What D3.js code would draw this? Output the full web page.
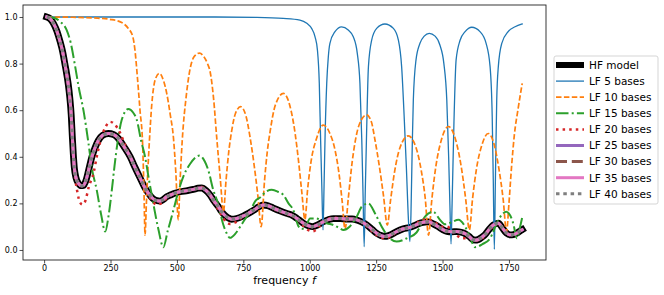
<!DOCTYPE html>
<html><head><meta charset="utf-8">
<script src="https://cdn.jsdelivr.net/npm/d3@7"></script>
<style>body{margin:0;background:#fff}svg{display:block}text{font-family:"DejaVu Sans",sans-serif}</style>
</head><body><svg id="c" width="664" height="295"></svg>
<script>
const xTicks = [0,250,500,750,1000,1250,1500,1750];
const yTicks = [0,0.2,0.4,0.6,0.8,1.0];
const seriesNames = ["HF model","LF 5 bases","LF 10 bases","LF 15 bases","LF 20 bases","LF 25 bases","LF 30 bases","LF 35 bases","LF 40 bases"];

const hf = [[10,1.0],[22,0.993],[35,0.973],[48,0.94],[60,0.895],[70,0.85],[78,0.8],[85,0.755],[91,0.71],[97,0.65],[102,0.58],[106,0.49],[110,0.41],[114,0.35],[120,0.31],[130,0.285],[140,0.276],[148,0.277],[158,0.3],[168,0.345],[180,0.40],[192,0.44],[204,0.47],[220,0.492],[242,0.50],[262,0.495],[280,0.478],[300,0.445],[324,0.40],[342,0.355],[361,0.31],[378,0.27],[393,0.243],[408,0.222],[424,0.212],[437,0.21],[450,0.218],[462,0.229],[474,0.235],[490,0.243],[512,0.25],[540,0.255],[562,0.26],[580,0.265],[593,0.266],[610,0.255],[625,0.236],[640,0.21],[656,0.186],[668,0.165],[681,0.148],[693,0.138],[706,0.132],[725,0.135],[750,0.146],[770,0.158],[788,0.17],[808,0.185],[825,0.193],[843,0.19],[863,0.18],[888,0.168],[913,0.157],[935,0.148],[951,0.136],[964,0.125],[980,0.112],[995,0.104],[1010,0.1],[1030,0.108],[1051,0.121],[1070,0.13],[1089,0.135],[1115,0.135],[1139,0.133],[1160,0.133],[1177,0.129],[1196,0.12],[1215,0.107],[1235,0.088],[1252,0.072],[1268,0.062],[1283,0.058],[1300,0.063],[1327,0.079],[1350,0.09],[1377,0.097],[1400,0.108],[1420,0.117],[1447,0.121],[1465,0.112],[1484,0.1],[1500,0.088],[1516,0.08],[1535,0.078],[1553,0.079],[1570,0.076],[1585,0.07],[1600,0.058],[1612,0.046],[1622,0.042],[1635,0.045],[1648,0.055],[1660,0.066],[1675,0.088],[1691,0.107],[1710,0.115],[1725,0.095],[1741,0.072],[1754,0.065],[1767,0.066],[1779,0.072],[1790,0.08],[1800,0.087]];

const lf5 = [[10,1.0],[300,1.0],[600,1.0],[800,0.998],[900,0.994],[963,0.987],[989,0.973],[1007,0.951],[1020,0.915],[1029,0.858],[1036,0.715],[1041,0.47],[1046,0.25],[1050,0.086],[1054,0.28],[1058,0.5],[1064,0.715],[1070,0.83],[1076,0.887],[1095,0.937],[1120,0.958],[1145,0.944],[1164,0.915],[1179,0.844],[1189,0.715],[1196,0.47],[1201,0.22],[1205,0.014],[1209,0.25],[1214,0.5],[1221,0.787],[1233,0.9],[1252,0.951],[1283,0.97],[1315,0.951],[1334,0.9],[1346,0.787],[1356,0.56],[1364,0.35],[1372,0.12],[1377,0.036],[1381,0.15],[1386,0.45],[1390,0.644],[1400,0.815],[1415,0.887],[1431,0.918],[1450,0.93],[1472,0.918],[1490,0.88],[1505,0.80],[1516,0.644],[1523,0.4],[1528,0.18],[1532,0.026],[1536,0.2],[1543,0.55],[1551,0.815],[1566,0.9],[1585,0.937],[1610,0.956],[1641,0.937],[1664,0.887],[1679,0.787],[1687,0.572],[1691,0.3],[1695,0.003],[1699,0.3],[1704,0.644],[1710,0.787],[1723,0.887],[1747,0.937],[1773,0.958],[1800,0.97]];

const lf10 = [[10,1.0],[100,0.999],[200,0.995],[248,0.99],[292,0.976],[317,0.951],[334,0.915],[342,0.858],[351,0.744],[361,0.6],[371,0.45],[376,0.25],[380,0.064],[385,0.2],[390,0.33],[397,0.48],[405,0.62],[418,0.73],[434,0.758],[450,0.725],[462,0.67],[475,0.58],[487,0.48],[496,0.33],[505,0.13],[512,0.3],[520,0.47],[535,0.66],[550,0.78],[565,0.83],[585,0.845],[600,0.832],[615,0.8],[625,0.765],[638,0.65],[650,0.48],[663,0.31],[675,0.164],[685,0.3],[695,0.42],[706,0.51],[720,0.585],[740,0.615],[760,0.575],[775,0.486],[790,0.37],[805,0.23],[817,0.1],[830,0.3],[840,0.42],[851,0.51],[870,0.62],[901,0.672],[925,0.62],[945,0.5],[958,0.38],[970,0.25],[982,0.13],[992,0.26],[1005,0.38],[1026,0.48],[1051,0.536],[1076,0.5],[1095,0.43],[1110,0.33],[1122,0.21],[1133,0.089],[1145,0.22],[1160,0.38],[1177,0.5],[1195,0.56],[1214,0.58],[1232,0.55],[1246,0.47],[1262,0.36],[1278,0.23],[1292,0.107],[1305,0.22],[1320,0.34],[1340,0.44],[1371,0.49],[1400,0.44],[1420,0.34],[1435,0.22],[1447,0.064],[1460,0.22],[1475,0.36],[1495,0.47],[1522,0.53],[1550,0.47],[1570,0.36],[1587,0.22],[1601,0.086],[1613,0.22],[1628,0.35],[1648,0.45],[1672,0.5],[1695,0.45],[1712,0.35],[1728,0.22],[1741,0.079],[1750,0.2],[1760,0.36],[1770,0.49],[1785,0.61],[1800,0.715]];

const lf15 = [[10,1.0],[41,0.995],[60,0.98],[85,0.944],[100,0.89],[117,0.787],[130,0.7],[148,0.6],[167,0.458],[180,0.35],[198,0.258],[215,0.15],[230,0.079],[243,0.15],[255,0.258],[265,0.36],[276,0.458],[292,0.558],[317,0.605],[335,0.59],[349,0.558],[365,0.47],[380,0.40],[395,0.3],[411,0.2],[430,0.09],[449,0.012],[465,0.08],[487,0.172],[505,0.25],[524,0.315],[550,0.37],[585,0.405],[605,0.38],[618,0.343],[637,0.257],[650,0.215],[663,0.16],[675,0.107],[688,0.07],[700,0.052],[720,0.07],[738,0.1],[755,0.13],[775,0.164],[795,0.21],[813,0.225],[835,0.25],[857,0.258],[880,0.25],[901,0.236],[920,0.2],[938,0.172],[957,0.103],[970,0.09],[985,0.1],[1001,0.135],[1025,0.135],[1045,0.125],[1065,0.115],[1089,0.107],[1110,0.095],[1127,0.086],[1150,0.1],[1177,0.143],[1196,0.186],[1221,0.2],[1246,0.157],[1271,0.1],[1302,0.05],[1327,0.036],[1365,0.05],[1402,0.075],[1434,0.143],[1465,0.164],[1490,0.13],[1510,0.11],[1535,0.12],[1560,0.13],[1585,0.1],[1605,0.05],[1622,0.012],[1650,0.025],[1679,0.05],[1710,0.129],[1740,0.164],[1766,0.115],[1780,0.05],[1792,0.1],[1800,0.14]];

const lf20 = [[10,1.0],[35,0.973],[60,0.895],[78,0.8],[91,0.71],[102,0.58],[108,0.44],[115,0.33],[125,0.25],[135,0.205],[145,0.195],[155,0.21],[168,0.27],[186,0.33],[200,0.41],[215,0.48],[232,0.53],[248,0.55],[265,0.54],[285,0.505],[305,0.45],[324,0.40],[342,0.355],[361,0.31],[378,0.265],[393,0.235],[410,0.205],[425,0.195],[440,0.2],[455,0.215],[470,0.232],[490,0.245],[515,0.252],[545,0.256],[565,0.262],[593,0.27],[612,0.255],[630,0.225],[650,0.185],[668,0.15],[685,0.12],[700,0.112],[720,0.118],[745,0.14],[770,0.158],[800,0.18],[825,0.195],[850,0.187],[875,0.17],[900,0.16],[925,0.15],[950,0.135],[975,0.105],[995,0.085],[1012,0.08],[1035,0.1],[1060,0.13],[1090,0.138],[1120,0.137],[1150,0.135],[1180,0.13],[1205,0.112],[1230,0.085],[1255,0.062],[1280,0.05],[1305,0.058],[1330,0.08],[1360,0.093],[1390,0.105],[1428,0.13],[1447,0.128],[1475,0.115],[1500,0.1],[1516,0.1],[1540,0.08],[1572,0.05],[1600,0.05],[1622,0.04],[1641,0.043],[1665,0.07],[1690,0.1],[1710,0.113],[1725,0.095],[1741,0.074],[1760,0.066],[1780,0.072],[1800,0.088]];

const lf25 = hf, lf30 = hf, lf35 = hf, lf40 = hf;

const L = 23, R = 546, T = 5, B = 260;
const svg = d3.select("#c");
const x = d3.scaleLinear().domain([-79.5, 1889.5]).range([L, R]);
const y = d3.scaleLinear().domain([-0.043, 1.0515]).range([B, T]);

const styles = [
  {data: hf,   color: "#000000", w: 6.8, dash: null, cap: "square"},
  {data: lf5,  color: "#1f77b4", w: 1.3, dash: null, cap: "square"},
  {data: lf10, color: "#ff7f0e", w: 1.7, dash: "5.5,2.4", cap: "butt"},
  {data: lf15, color: "#2ca02c", w: 2.0, dash: "12.5,3.2,2,3.2", cap: "butt"},
  {data: lf20, color: "#d62728", w: 2.5, dash: "2.5,4.1", cap: "butt"},
  {data: lf25, color: "#9467bd", w: 3.0, dash: null, cap: "square"},
  {data: lf30, color: "#8c564b", w: 3.0, dash: "11,4.8", cap: "butt"},
  {data: lf35, color: "#e377c2", w: 3.0, dash: null, cap: "square"},
  {data: lf40, color: "#7f7f7f", w: 3.0, dash: "3.5,3.8", cap: "butt"}
];

svg.append("defs").append("clipPath").attr("id","clip")
  .append("rect").attr("x",L).attr("y",T).attr("width",R-L).attr("height",B-T);

const line = d3.line().x(d=>x(d[0])).y(d=>y(d[1])).curve(d3.curveMonotoneX);
const g = svg.append("g").attr("clip-path","url(#clip)");
styles.forEach(s=>{
  g.append("path").attr("d", line(s.data)).attr("fill","none")
    .attr("stroke", s.color).attr("stroke-width", s.w)
    .attr("stroke-dasharray", s.dash).attr("stroke-linecap", s.cap)
    .attr("stroke-linejoin","round");
});

svg.append("rect").attr("x",L).attr("y",T).attr("width",R-L).attr("height",B-T)
  .attr("fill","none").attr("stroke","#222").attr("stroke-width",0.9);

const xa = svg.append("g").attr("transform",`translate(0,${B})`)
  .call(d3.axisBottom(x).tickValues(xTicks).tickSize(3.5).tickSizeOuter(0).tickPadding(2).tickFormat(d3.format("d")));
const ya = svg.append("g").attr("transform",`translate(${L},0)`)
  .call(d3.axisLeft(y).tickValues(yTicks).tickSize(3.5).tickSizeOuter(0).tickPadding(2).tickFormat(d3.format(".1f")));
[xa,ya].forEach(a=>{
  a.select(".domain").remove();
  a.selectAll("line").attr("stroke","#222").attr("stroke-width",0.8);
  a.selectAll("text").attr("font-size","8px").attr("fill","#000").attr("font-family","DejaVu Sans");
});

svg.append("text").attr("x",(L+R)/2).attr("y",284).attr("text-anchor","middle")
  .attr("font-size","11px").attr("fill","#000")
  .html('frequency <tspan font-style="italic">f</tspan>');

const lg = svg.append("g");
lg.append("rect").attr("x",554).attr("y",56).attr("width",104).attr("height",148).attr("rx",2)
  .attr("fill","#fff").attr("fill-opacity",0.8).attr("stroke","#d0d0d0").attr("stroke-width",0.9);
seriesNames.forEach((n,i)=>{
  const cy = 65 + i*16.1;
  const s = styles[i];
  lg.append("line").attr("x1",556).attr("x2",584).attr("y1",cy).attr("y2",cy)
    .attr("stroke",s.color).attr("stroke-width",Math.min(s.w,6)).attr("stroke-dasharray",s.dash)
    .attr("stroke-linecap","butt");
  lg.append("text").attr("x",589).attr("y",cy+3.8).attr("font-size","10.5px").attr("fill","#000").text(n);
});
</script></body></html>
